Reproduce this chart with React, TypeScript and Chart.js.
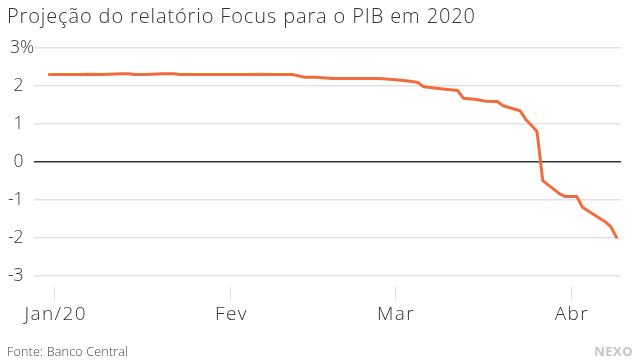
import React, { useEffect, useRef } from "react";
import { Chart, registerables } from "chart.js";
Chart.register(...registerables);

const TITLE = "Projeção do relatório Focus para o PIB em 2020";
const SOURCE = "Fonte: Banco Central";
const BRAND = "NEXO";

const dates = [
  "2019-12-31", "2020-01-06", "2020-01-07", "2020-01-09", "2020-01-13", "2020-01-14",
  "2020-01-15", "2020-01-17", "2020-01-20", "2020-01-22", "2020-01-23", "2020-02-05",
  "2020-02-06", "2020-02-07", "2020-02-12", "2020-02-14", "2020-02-16", "2020-02-19",
  "2020-02-27", "2020-02-29", "2020-03-02", "2020-03-04", "2020-03-05", "2020-03-06",
  "2020-03-09", "2020-03-12", "2020-03-13", "2020-03-15", "2020-03-17", "2020-03-19",
  "2020-03-20", "2020-03-23", "2020-03-24", "2020-03-25", "2020-03-26", "2020-03-27",
  "2020-03-30", "2020-03-31", "2020-04-02", "2020-04-03", "2020-04-07", "2020-04-08",
  "2020-04-09",
];
const values = [
  2.30, 2.30, 2.31, 2.30, 2.32, 2.32,
  2.30, 2.30, 2.32, 2.32, 2.30, 2.30,
  2.31, 2.30, 2.30, 2.23, 2.23, 2.20,
  2.20, 2.18, 2.15, 2.12, 2.09, 1.98,
  1.93, 1.88, 1.68, 1.65, 1.60, 1.59,
  1.48, 1.35, 1.12, 0.97, 0.80, -0.49,
  -0.84, -0.91, -0.91, -1.19, -1.57, -1.70,
  -1.98,
];
const monthTickDates = ["2020-01-01", "2020-02-01", "2020-03-01", "2020-04-01"];
const monthTickLabels = ["Jan/20", "Fev", "Mar", "Abr"];
const yTickValues = [-3, -2, -1, 0, 1, 2, 3];

const FONT = "'Open Sans', Lato, sans-serif";

function dayIndex(s: string): number {
  const [y, m, d] = s.split("-").map(Number);
  return (Date.UTC(y, m - 1, d) - Date.UTC(2020, 0, 1)) / 86400000;
}

function spacingFor(ctx: CanvasRenderingContext2D, text: string, target: number): number {
  (ctx as any).letterSpacing = "0px";
  const w = ctx.measureText(text).width;
  return Math.max(0, (target - w) / Math.max(1, text.length - 1));
}

export default function App() {
  const ref = useRef<HTMLCanvasElement | null>(null);
  useEffect(() => {
    document.body.style.margin = "0";
    const canvas = ref.current;
    if (!canvas) return;
    const points = dates.map((d, i) => ({ x: dayIndex(d), y: values[i] }));
    const tickDays = monthTickDates.map(dayIndex);

    const overlay = {
      id: "overlay",
      afterDraw(chart: any) {
        const ctx = chart.ctx as CanvasRenderingContext2D;
        const ys = chart.scales.y;
        const xs = chart.scales.x;
        ctx.save();
        ctx.textBaseline = "middle";
        // title
        ctx.fillStyle = "#333";
        ctx.font = `300 20px ${FONT}`;
        ctx.textAlign = "left";
        let sp = spacingFor(ctx, TITLE, 468);
        (ctx as any).letterSpacing = `${sp}px`;
        ctx.fillText(TITLE, 7, 17);
        // y labels
        ctx.font = `300 17.5px ${FONT}`;
        (ctx as any).letterSpacing = "0px";
        ctx.fillStyle = "#333";
        yTickValues.forEach((v) => {
          const y = ys.getPixelForValue(v);
          ctx.textAlign = "right";
          if (v === 3) ctx.fillText("3%", 34, y);
          else ctx.fillText(String(v), 23.5, y);
        });
        // x labels
        ctx.font = `300 19px ${FONT}`;
        sp = spacingFor(ctx, monthTickLabels[0], 61);
        (ctx as any).letterSpacing = `${sp}px`;
        ctx.textAlign = "center";
        tickDays.forEach((d, i) => {
          ctx.fillText(monthTickLabels[i], xs.getPixelForValue(d) + sp / 2, 315);
        });
        // footer
        ctx.font = `300 12.5px ${FONT}`;
        ctx.fillStyle = "#444";
        ctx.textAlign = "left";
        sp = spacingFor(ctx, SOURCE, 121);
        (ctx as any).letterSpacing = `${sp}px`;
        ctx.fillText(SOURCE, 7, 352);
        ctx.font = `bold 13px ${FONT}`;
        (ctx as any).letterSpacing = "0.5px";
        ctx.fillStyle = "#c4c4c4";
        ctx.textAlign = "right";
        ctx.fillText(BRAND, 633, 352);
        ctx.restore();
      },
    };

    const chart = new Chart(canvas, {
      type: "line",
      data: {
        datasets: [
          {
            data: points,
            borderColor: "#f26b3d",
            borderWidth: 3,
            pointRadius: 0,
            tension: 0,
            borderJoinStyle: "round",
            borderCapStyle: "round",
          },
        ],
      },
      options: {
        responsive: false,
        animation: false,
        layout: { padding: { top: 48, right: 19, left: 0, bottom: 0 } },
        plugins: { legend: { display: false }, tooltip: { enabled: false }, title: { display: false } },
        scales: {
          x: {
            type: "linear",
            min: -3.7,
            max: 99.8,
            afterBuildTicks: (scale: any) => {
              scale.ticks = tickDays.map((v) => ({ value: v }));
            },
            afterFit: (scale: any) => {
              scale.height = 72.6;
            },
            ticks: { display: false },
            grid: { drawOnChartArea: false, drawTicks: true, tickLength: 12, color: "#dddddd", lineWidth: 1 },
            border: { display: false },
          },
          y: {
            type: "linear",
            min: -3.3,
            max: 3,
            afterBuildTicks: (scale: any) => {
              scale.ticks = yTickValues.map((v) => ({ value: v }));
            },
            afterFit: (scale: any) => {
              scale.width = 34;
            },
            ticks: { display: false },
            grid: {
              drawTicks: false,
              color: (c: any) => (c.tick && c.tick.value === 0 ? "#333333" : "#e2e2e2"),
              lineWidth: 1.5,
            },
            border: { display: false },
          },
        },
      },
      plugins: [overlay],
    } as any);
    return () => chart.destroy();
  }, []);
  return (
    <div style={{ width: 640, height: 360, background: "#fff" }}>
      <canvas ref={ref} width={640} height={360} />
    </div>
  );
}
